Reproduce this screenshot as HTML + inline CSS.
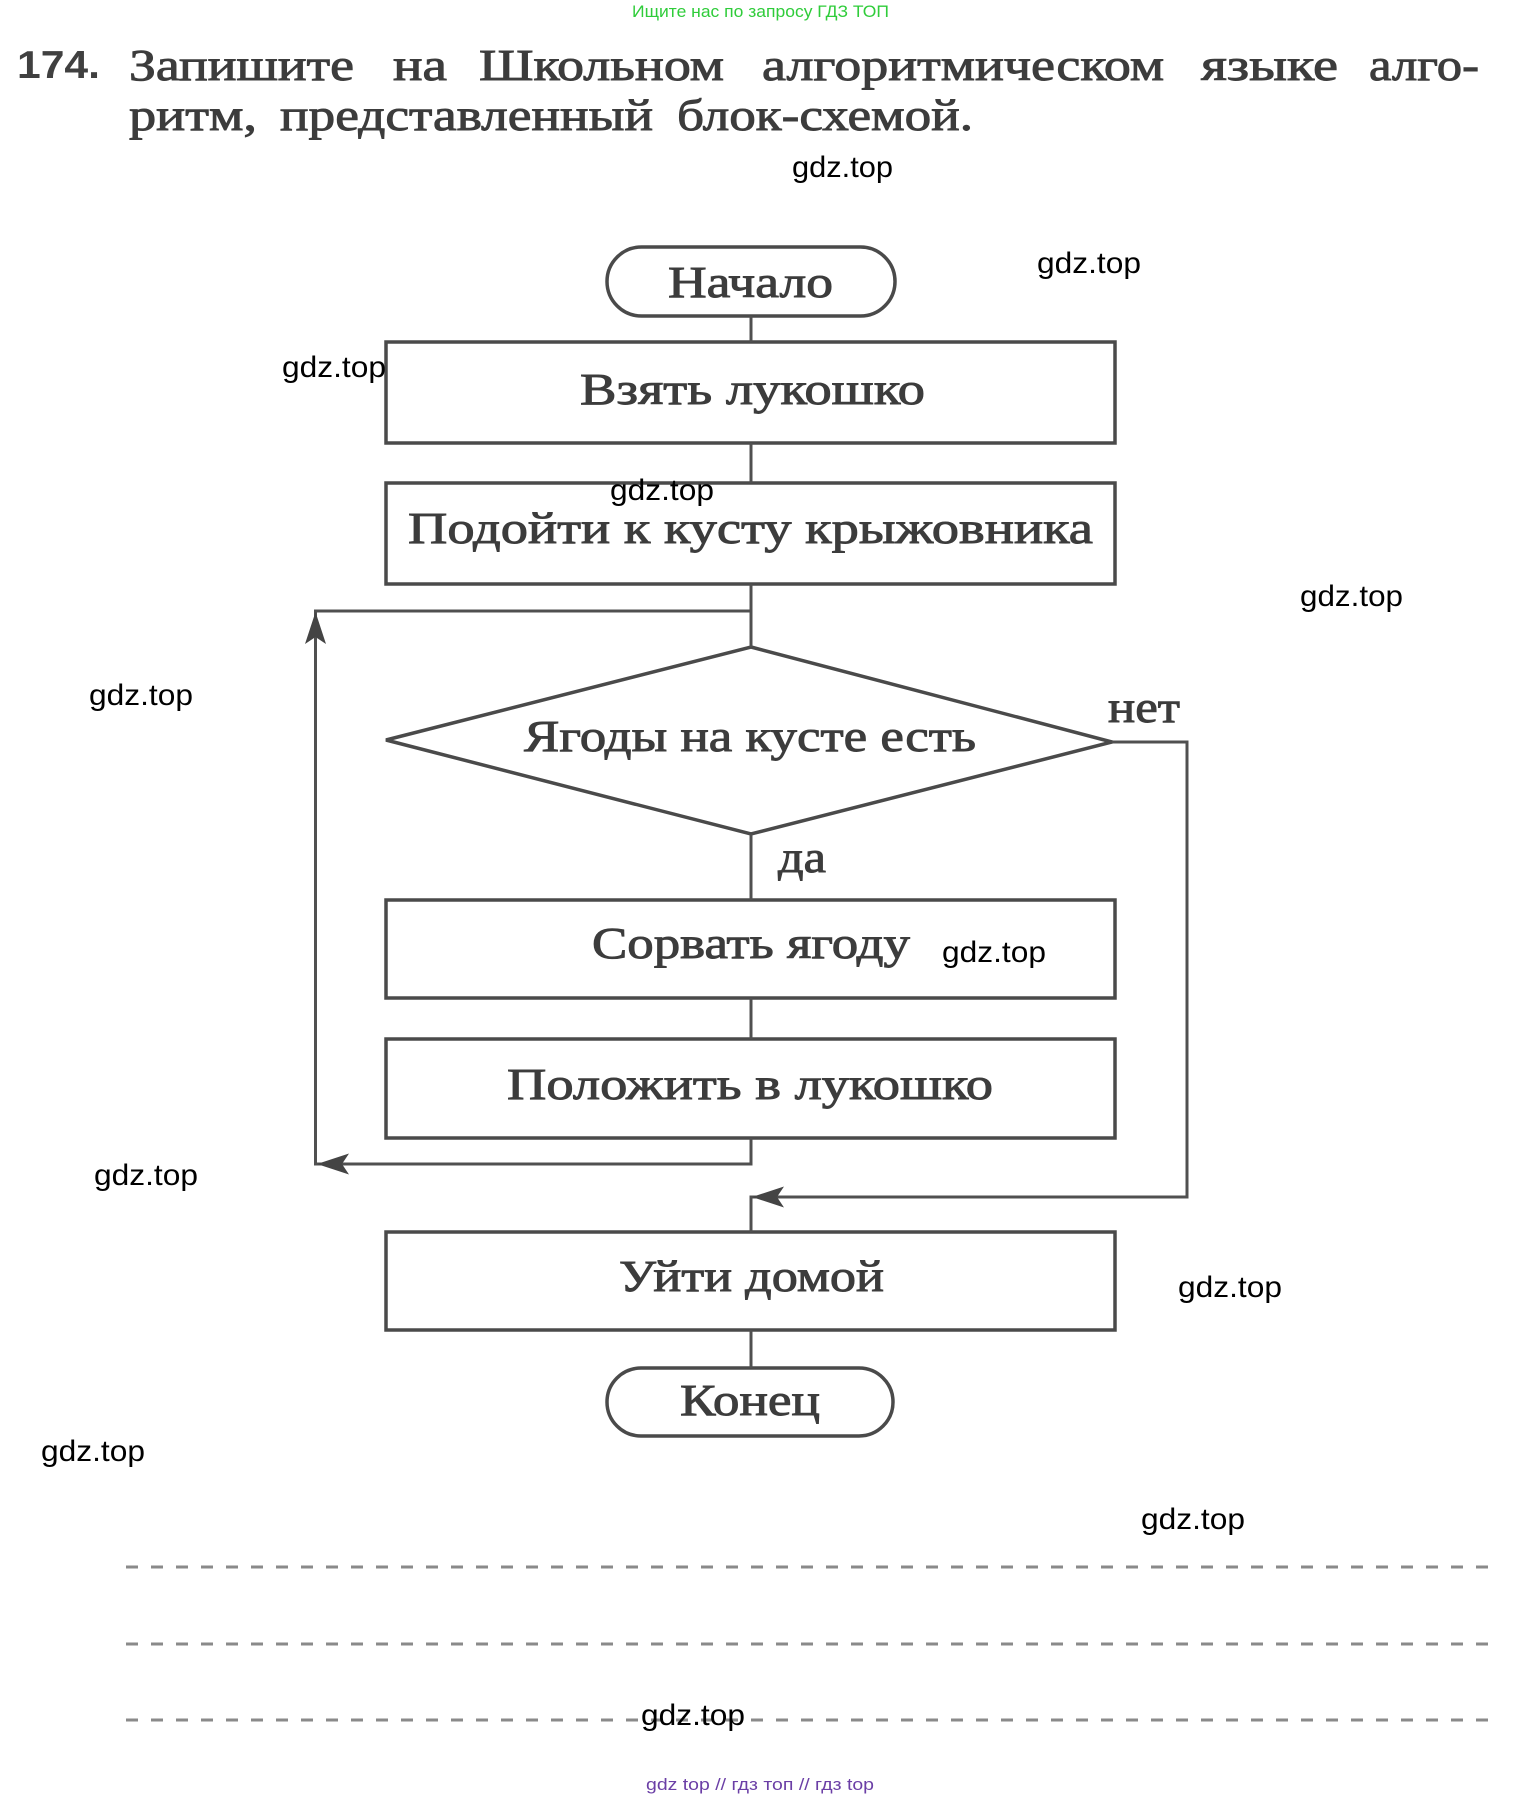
<!DOCTYPE html>
<html>
<head>
<meta charset="utf-8">
<style>
html,body{margin:0;padding:0;background:#fff;}
svg{display:block;}
.t{font-family:"Liberation Serif","Noto Serif CJK SC",serif;fill:#3c3c3c;stroke:#3c3c3c;stroke-width:0.9;}
.w{font-family:"Liberation Sans","Noto Sans CJK SC",sans-serif;fill:#000;font-size:30px;}
</style>
</head>
<body>
<svg width="1523" height="1799" viewBox="0 0 1523 1799" xmlns="http://www.w3.org/2000/svg">
<rect x="0" y="0" width="1523" height="1799" fill="#fff"/>

<!-- header -->
<text x="632" y="17" font-family="Liberation Sans, sans-serif" font-size="17" fill="#2fcc3a" textLength="257" lengthAdjust="spacingAndGlyphs">Ищите нас по запросу ГДЗ ТОП</text>

<!-- title -->
<text x="17" y="78" font-family="Liberation Sans, sans-serif" font-weight="bold" font-size="39" fill="#404040" textLength="83" lengthAdjust="spacingAndGlyphs">174.</text>
<g class="t" font-size="44">
<text x="129" y="80" textLength="225" lengthAdjust="spacingAndGlyphs">Запишите</text>
<text x="393" y="80" textLength="54" lengthAdjust="spacingAndGlyphs">на</text>
<text x="479" y="80" textLength="245" lengthAdjust="spacingAndGlyphs">Школьном</text>
<text x="762" y="80" textLength="402" lengthAdjust="spacingAndGlyphs">алгоритмическом</text>
<text x="1201" y="80" textLength="137" lengthAdjust="spacingAndGlyphs">языке</text>
<text x="1369" y="80" textLength="110" lengthAdjust="spacingAndGlyphs">алго-</text>
<text x="129" y="130" textLength="128" lengthAdjust="spacingAndGlyphs">ритм,</text>
<text x="280" y="130" textLength="373" lengthAdjust="spacingAndGlyphs">представленный</text>
<text x="677" y="130" textLength="296" lengthAdjust="spacingAndGlyphs">блок-схемой.</text>
</g>

<!-- flowchart lines -->
<g fill="none" stroke="#4a4a4a" stroke-width="3.5">
  <rect x="607" y="247" width="288" height="69" rx="34.5" ry="34.5"/>
  <rect x="386" y="342" width="729" height="101"/>
  <rect x="386" y="483" width="729" height="101"/>
  <polygon points="751,647 1112,742 751,834 386,740"/>
  <rect x="386" y="900" width="729" height="98"/>
  <rect x="386" y="1039" width="729" height="99"/>
  <rect x="386" y="1232" width="729" height="98"/>
  <rect x="607" y="1368" width="286" height="68" rx="34" ry="34"/>
</g>
<g fill="none" stroke="#505050" stroke-width="3">
  <line x1="751" y1="316" x2="751" y2="342"/>
  <line x1="751" y1="443" x2="751" y2="483"/>
  <line x1="751" y1="584" x2="751" y2="647"/>
  <polyline points="751,611 315.5,611 315.5,1164 751,1164 751,1138"/>
  <line x1="751" y1="834" x2="751" y2="900"/>
  <line x1="751" y1="998" x2="751" y2="1039"/>
  <polyline points="1112,742 1187,742 1187,1197 751,1197 751,1232"/>
  <line x1="751" y1="1330" x2="751" y2="1368"/>
</g>
<!-- arrowheads -->
<g fill="#444" stroke="none">
  <polygon points="315.5,612 326,644 315.5,637 305,644"/>
  <polygon points="317,1164 349,1153.5 342,1164 349,1174.5"/>
  <polygon points="752,1197 784,1186.5 777,1197 784,1207.5"/>
</g>

<!-- flowchart text -->
<g class="t" font-size="44">
<text x="668" y="297" textLength="165" lengthAdjust="spacingAndGlyphs">Начало</text>
<text x="580" y="404" textLength="345" lengthAdjust="spacingAndGlyphs">Взять лукошко</text>
<text x="408" y="543" textLength="685" lengthAdjust="spacingAndGlyphs">Подойти к кусту крыжовника</text>
<text x="524" y="751" textLength="452" lengthAdjust="spacingAndGlyphs">Ягоды на кусте есть</text>
<text x="1108" y="722" textLength="72" lengthAdjust="spacingAndGlyphs">нет</text>
<text x="778" y="872" textLength="48" lengthAdjust="spacingAndGlyphs">да</text>
<text x="592" y="958" textLength="318" lengthAdjust="spacingAndGlyphs">Сорвать ягоду</text>
<text x="507" y="1099" textLength="486" lengthAdjust="spacingAndGlyphs">Положить в лукошко</text>
<text x="619" y="1291" textLength="265" lengthAdjust="spacingAndGlyphs">Уйти домой</text>
<text x="680" y="1415" textLength="140" lengthAdjust="spacingAndGlyphs">Конец</text>
</g>

<!-- dashed answer lines -->
<g stroke="#8a8a8a" stroke-width="3" stroke-dasharray="12 13">
  <line x1="126" y1="1567" x2="1488" y2="1567"/>
  <line x1="126" y1="1644" x2="1488" y2="1644"/>
  <line x1="126" y1="1720" x2="1488" y2="1720"/>
</g>

<!-- watermarks -->
<g class="w">
<text x="792" y="177" textLength="101" lengthAdjust="spacingAndGlyphs">gdz.top</text>
<text x="1037" y="273" textLength="104" lengthAdjust="spacingAndGlyphs">gdz.top</text>
<text x="282" y="377" textLength="104" lengthAdjust="spacingAndGlyphs">gdz.top</text>
<text x="610" y="500" textLength="104" lengthAdjust="spacingAndGlyphs">gdz.top</text>
<text x="1300" y="606" textLength="103" lengthAdjust="spacingAndGlyphs">gdz.top</text>
<text x="89" y="705" textLength="104" lengthAdjust="spacingAndGlyphs">gdz.top</text>
<text x="942" y="962" textLength="104" lengthAdjust="spacingAndGlyphs">gdz.top</text>
<text x="94" y="1185" textLength="104" lengthAdjust="spacingAndGlyphs">gdz.top</text>
<text x="1178" y="1297" textLength="104" lengthAdjust="spacingAndGlyphs">gdz.top</text>
<text x="41" y="1461" textLength="104" lengthAdjust="spacingAndGlyphs">gdz.top</text>
<text x="1141" y="1529" textLength="104" lengthAdjust="spacingAndGlyphs">gdz.top</text>
<text x="641" y="1725" textLength="104" lengthAdjust="spacingAndGlyphs">gdz.top</text>
</g>

<!-- footer -->
<text x="646" y="1790" font-family="Liberation Sans, sans-serif" font-size="17" fill="#6b3fa6" textLength="228" lengthAdjust="spacingAndGlyphs">gdz top  //  гдз топ  //  гдз top</text>
</svg>
</body>
</html>
